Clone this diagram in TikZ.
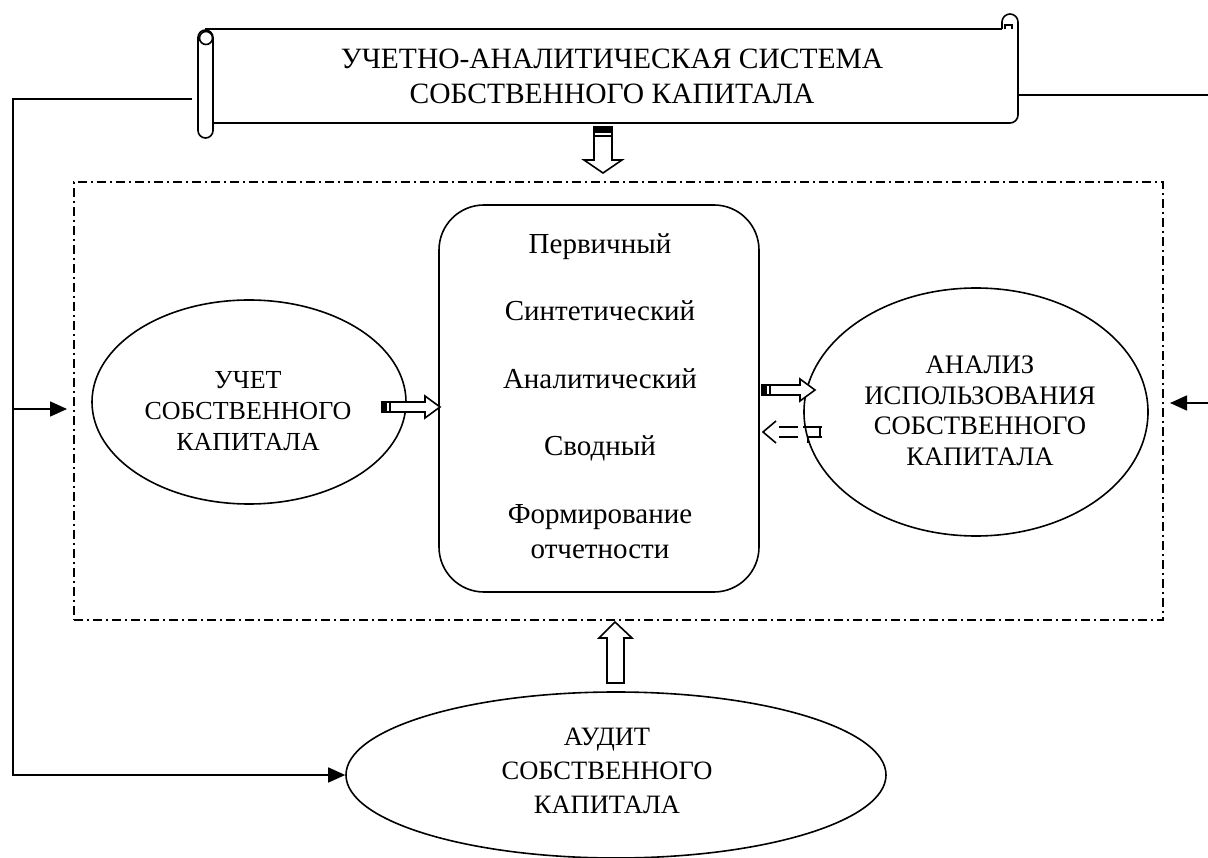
\documentclass[tikz,border=0pt]{standalone}
\usepackage{fontspec}
\setmainfont{Liberation Serif}
\usetikzlibrary{arrows.meta,shapes.geometric}
\begin{document}
\begin{tikzpicture}[x=1pt,y=-1pt,line width=1.6pt,
  txt/.style={font=\fontsize{26}{31}\selectfont, align=center, inner sep=0pt},
  ell/.style={ellipse, draw, line width=1.6pt, inner sep=0pt},
  dashdot/.style={line width=1.6pt, dash pattern=on 9pt off 4pt on 2pt off 4pt},
  arr/.style={-{Triangle[length=17pt,width=15pt]}, line width=1.6pt},
  blockarr/.style={draw, fill=white, line width=1.6pt, line join=miter}]
\useasboundingbox (0,0) rectangle (1208,858);

% dash-dot frame
\node[draw, dashdot, minimum width=1089pt, minimum height=438pt, inner sep=0pt] (frame) at (618.5,401) {};

% scroll
\draw[rounded corners=8pt] (1002,29) -- (1002,14) -- (1018,14) -- (1018,123) -- (213,123);
\draw (205,29) -- (1002,29);
\draw (1005,29) -- (1005,25) -- (1012,25) -- (1012,29);
\draw[rounded corners=7.5pt, fill=white] (198,30) rectangle (213,138);
\draw (206,38) circle (6.5pt);
\node[txt, font=\fontsize{29.5}{35}\selectfont] (scroll) at (612,76) {УЧЕТНО-АНАЛИТИЧЕСКАЯ СИСТЕМА\\СОБСТВЕННОГО КАПИТАЛА};
\coordinate (scrL) at (192,99);
\coordinate (scrR) at (1018,95);

% central box
\node[draw, rounded corners=45pt, minimum width=320pt, minimum height=387pt, inner sep=0pt] (center) at (599,398.5) {};
\node[txt, font=\fontsize{29}{35}\selectfont] (centertxt) at (600,396) {Первичный\\[32pt]Синтетический\\[33pt]Аналитический\\[32pt]Сводный\\[33pt]Формирование\\отчетности};

% ellipses
\node[ell, minimum width=314pt, minimum height=204pt] (uchet) at (249,402) {};
\node[txt] (uchettxt) at (248,411) {УЧЕТ\\СОБСТВЕННОГО\\КАПИТАЛА};

\node[ell, minimum width=344pt, minimum height=248pt] (analiz) at (976,412) {};
\node[txt, font=\fontsize{26.7}{30.5}\selectfont] (analiztxt) at (980,411) {АНАЛИЗ\\ИСПОЛЬЗОВАНИЯ\\СОБСТВЕННОГО\\КАПИТАЛА};

\node[ell, minimum width=540pt, minimum height=166pt] (audit) at (616,775) {};
\node[txt, font=\fontsize{26.5}{34}\selectfont] (audittxt) at (607,771) {АУДИТ\\СОБСТВЕННОГО\\КАПИТАЛА};

% connectors
\draw[arr] (scrL) -- (13,99) |- (audit.west);
\coordinate (lbr) at (13,409);
\draw[arr] (lbr) -- (67,409);
\coordinate (rin) at (1208,403);
\draw[arr] (rin) -- (1170,403);
\draw (scrR) -- (1208,95);

% block arrow: scroll -> frame
\path[blockarr] (594,127) -- (612,127) -- (612,160) -- (622,160) -- (603,173) -- (584,160) -- (594,160) -- cycle;
\fill (594,127) rectangle (612,133);
\draw[line width=1.2pt] (594,136) -- (612,136);

% block arrow: audit -> frame
\path[blockarr] (607,683) -- (607,638) -- (599,638) -- (615,622) -- (632,638) -- (624,638) -- (624,683) -- cycle;

% block arrow: uchet -> center
\path[blockarr] (382,402) -- (425,402) -- (425,396) -- (440,407) -- (425,418) -- (425,412) -- (382,412) -- cycle;
\fill (382,402) rectangle (387,412);
\draw[line width=1.2pt] (390,402) -- (390,412);

% block arrow: center -> analiz
\path[blockarr] (762,385) -- (800,385) -- (800,379) -- (815,390) -- (800,401) -- (800,395) -- (762,395) -- cycle;
\fill (762,385) rectangle (767,395);
\draw[line width=1.2pt] (770,385) -- (770,395);

% dashed block arrow: analiz -> center
\draw[line width=1.6pt] (776,421) -- (763,432) -- (776,443);
\draw[line width=1.6pt, dash pattern=on 19pt off 5pt] (779,427) -- (822,427);
\draw[line width=1.6pt, dash pattern=on 19pt off 9pt] (779,437) -- (822,437);
\draw[line width=1.6pt] (808,437) -- (808,443);
\draw[line width=1.6pt] (820,427) -- (820,437);
\end{tikzpicture}
\end{document}
